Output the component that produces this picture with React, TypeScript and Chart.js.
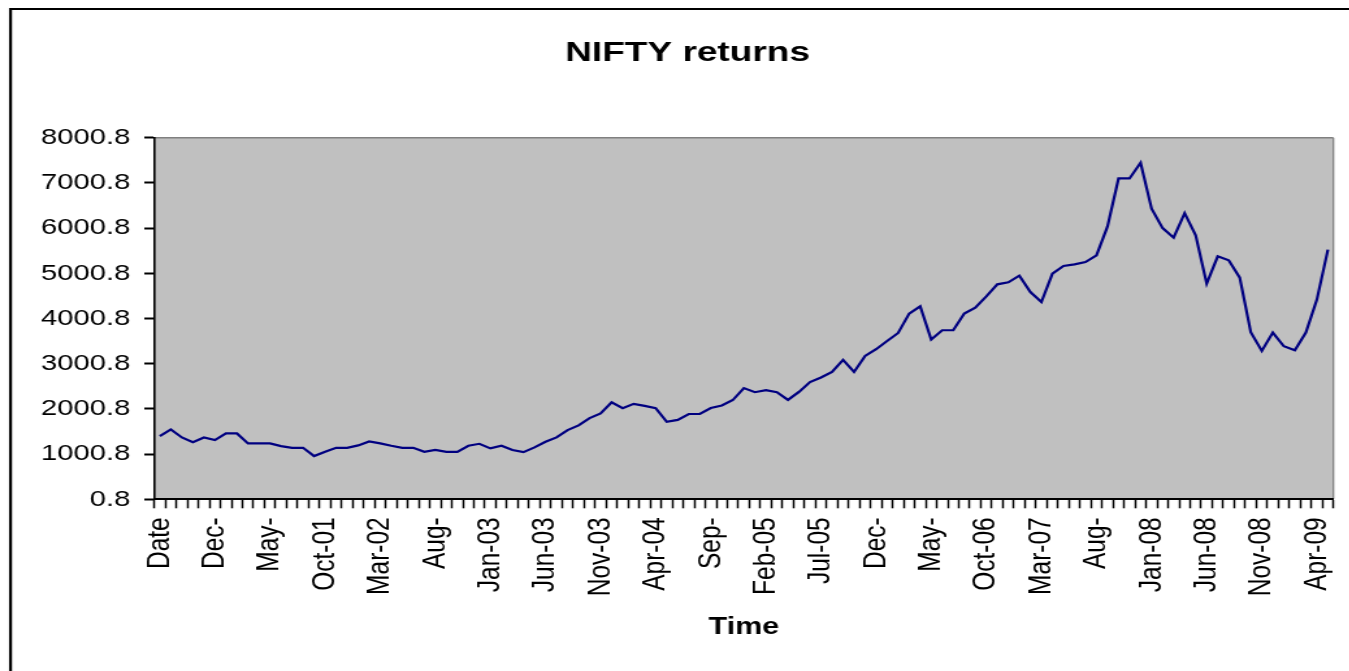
import React, { useEffect, useRef } from 'react';
import { Chart, registerables } from 'chart.js';

Chart.register(...registerables);

// ---------- data ----------
const categories: string[] = [
  'Date',
  'Aug-00', 'Sep-00', 'Oct-00', 'Nov-00', 'Dec-00',
  'Jan-01', 'Feb-01', 'Mar-01', 'Apr-01', 'May-01', 'Jun-01', 'Jul-01', 'Aug-01', 'Sep-01', 'Oct-01', 'Nov-01', 'Dec-01',
  'Jan-02', 'Feb-02', 'Mar-02', 'Apr-02', 'May-02', 'Jun-02', 'Jul-02', 'Aug-02', 'Sep-02', 'Oct-02', 'Nov-02', 'Dec-02',
  'Jan-03', 'Feb-03', 'Mar-03', 'Apr-03', 'May-03', 'Jun-03', 'Jul-03', 'Aug-03', 'Sep-03', 'Oct-03', 'Nov-03', 'Dec-03',
  'Jan-04', 'Feb-04', 'Mar-04', 'Apr-04', 'May-04', 'Jun-04', 'Jul-04', 'Aug-04', 'Sep-04', 'Oct-04', 'Nov-04', 'Dec-04',
  'Jan-05', 'Feb-05', 'Mar-05', 'Apr-05', 'May-05', 'Jun-05', 'Jul-05', 'Aug-05', 'Sep-05', 'Oct-05', 'Nov-05', 'Dec-05',
  'Jan-06', 'Feb-06', 'Mar-06', 'Apr-06', 'May-06', 'Jun-06', 'Jul-06', 'Aug-06', 'Sep-06', 'Oct-06', 'Nov-06', 'Dec-06',
  'Jan-07', 'Feb-07', 'Mar-07', 'Apr-07', 'May-07', 'Jun-07', 'Jul-07', 'Aug-07', 'Sep-07', 'Oct-07', 'Nov-07', 'Dec-07',
  'Jan-08', 'Feb-08', 'Mar-08', 'Apr-08', 'May-08', 'Jun-08', 'Jul-08', 'Aug-08', 'Sep-08', 'Oct-08', 'Nov-08', 'Dec-08',
  'Jan-09', 'Feb-09', 'Mar-09', 'Apr-09', 'May-09',
];

const niftyValues: number[] = [
  1399, 1547, 1370, 1266, 1370, 1310, 1458, 1458, 1237, 1237,
  1237, 1178, 1141, 1141, 957, 1052, 1141, 1141, 1193, 1282,
  1237, 1185, 1141, 1141, 1052, 1096, 1052, 1052, 1185, 1229,
  1127, 1185, 1090, 1045, 1150, 1274, 1370, 1532, 1635, 1797,
  1900, 2147, 2018, 2113, 2069, 2018, 1715, 1759, 1888, 1888,
  2020, 2077, 2198, 2463, 2371, 2418, 2371, 2201, 2378, 2595,
  2696, 2820, 3085, 2820, 3174, 3322, 3505, 3682, 4111, 4272,
  3536, 3742, 3742, 4111, 4243, 4493, 4758, 4802, 4950, 4588,
  4367, 4995, 5163, 5200, 5251, 5399, 6040, 7101, 7101, 7448,
  6431, 6003, 5790, 6334, 5841, 4774, 5377, 5289, 4906, 3697,
  3284, 3691, 3388, 3300, 3691, 4420, 5525,
];

const shownTickLabels: string[] = [
  'Date', 'Dec-', 'May-', 'Oct-01', 'Mar-02', 'Aug-', 'Jan-03', 'Jun-03', 'Nov-03', 'Apr-04', 'Sep-',
  'Feb-05', 'Jul-05', 'Dec-', 'May-', 'Oct-06', 'Mar-07', 'Aug-', 'Jan-08', 'Jun-08', 'Nov-08', 'Apr-09',
];
const labelEvery = 5;

const yTickValues: number[] = [0.8, 1000.8, 2000.8, 3000.8, 4000.8, 5000.8, 6000.8, 7000.8, 8000.8];

const chartTitle = 'NIFTY returns';
const xAxisTitle = 'Time';

// ---------- layout (internal canvas units; canvas is stretched horizontally by K) ----------
const K = 1.3;
const W = 1060;
const H = 700;
const FONT = '"Liberation Sans", Arial, sans-serif';

const framePlugin = {
  id: 'excelFrame',
  beforeDraw(chart: any) {
    const { ctx, chartArea: a } = chart;
    ctx.save();
    ctx.fillStyle = '#C0C0C0';
    ctx.fillRect(a.left, a.top, a.right - a.left, a.bottom - a.top);
    ctx.strokeStyle = '#808080';
    ctx.lineWidth = 1.5;
    ctx.beginPath();
    ctx.moveTo(a.left, a.top);
    ctx.lineTo(a.right, a.top);
    ctx.stroke();
    ctx.lineWidth = 1.3;
    ctx.beginPath();
    ctx.moveTo(a.right, a.top);
    ctx.lineTo(a.right, a.bottom);
    ctx.stroke();
    // outer chart border
    ctx.strokeStyle = '#000';
    ctx.lineWidth = 2.3;
    ctx.beginPath();
    ctx.moveTo(8.08, 8);
    ctx.lineTo(8.08, H + 10);
    ctx.stroke();
    ctx.lineWidth = 2;
    ctx.beginPath();
    ctx.moveTo(7, 9);
    ctx.lineTo(W + 10, 9);
    ctx.stroke();
    ctx.restore();
  },
};

export default function App() {
  const canvasRef = useRef<HTMLCanvasElement | null>(null);

  useEffect(() => {
    const canvas = canvasRef.current;
    if (!canvas) return;
    const chart = new Chart(canvas, {
      type: 'line',
      data: {
        labels: categories,
        datasets: [
          {
            label: 'NIFTY',
            data: niftyValues,
            borderColor: '#000080',
            backgroundColor: '#000080',
            borderWidth: 2.2,
            pointRadius: 0,
            tension: 0,
            fill: false,
          },
        ],
      },
      options: {
        animation: false,
        responsive: false,
        devicePixelRatio: 1,
        events: [],
        layout: { padding: { left: 27.5, right: W - 1030.2, top: 0, bottom: 0 } },
        plugins: {
          legend: { display: false },
          tooltip: { enabled: false },
          title: {
            display: true,
            text: chartTitle,
            color: '#000',
            font: { family: FONT, size: 28.5, weight: 'bold' },
            padding: { top: 36.5, bottom: 67.1 },
          },
        },
        scales: {
          x: {
            type: 'category',
            offset: true,
            grid: {
              offset: true,
              drawOnChartArea: false,
              drawTicks: true,
              tickLength: 9,
              tickWidth: 1.5,
              tickColor: '#000',
              color: '#000',
            },
            border: { display: true, color: '#000', width: 2 },
            ticks: {
              autoSkip: false,
              minRotation: 90,
              maxRotation: 90,
              padding: 9,
              color: '#000',
              font: { family: FONT, size: 24.5 },
              callback: (_v: any, index: number) =>
                index % labelEvery === 0 ? shownTickLabels[index / labelEvery] ?? '' : '',
            },
            title: {
              display: true,
              text: xAxisTitle,
              color: '#000',
              font: { family: FONT, size: 23.5, weight: 'bold' },
              padding: { top: 0, bottom: 58.6 },
            },
            afterFit: (scale: any) => {
              scale.height = H - 499.3;
            },
          },
          y: {
            type: 'linear',
            min: 0.8,
            max: 8000.8,
            grid: {
              drawOnChartArea: false,
              drawTicks: true,
              tickLength: 7.7,
              tickWidth: 2,
              tickColor: '#000',
              color: '#000',
            },
            border: { display: true, color: '#000', width: 1.6 },
            ticks: {
              padding: 10.8,
              color: '#000',
              font: { family: FONT, size: 22.5 },
              callback: (v: any) => Number(v).toFixed(1),
            },
            afterBuildTicks: (scale: any) => {
              scale.ticks = yTickValues.map((v) => ({ value: v }));
            },
            afterFit: (scale: any) => {
              scale.width = 118.7 - 27.5;
            },
          },
        },
      },
      plugins: [framePlugin],
    } as any);
    return () => chart.destroy();
  }, []);

  return (
    <div
      style={{
        position: 'fixed',
        left: 0,
        top: 0,
        width: '1349px',
        height: '671px',
        overflow: 'hidden',
        background: '#fff',
      }}
    >
      <canvas
        ref={canvasRef}
        width={W}
        height={H}
        style={{ position: 'absolute', left: 0, top: 0, width: `${W * K}px`, height: `${H}px`, display: 'block' }}
      />
    </div>
  );
}
